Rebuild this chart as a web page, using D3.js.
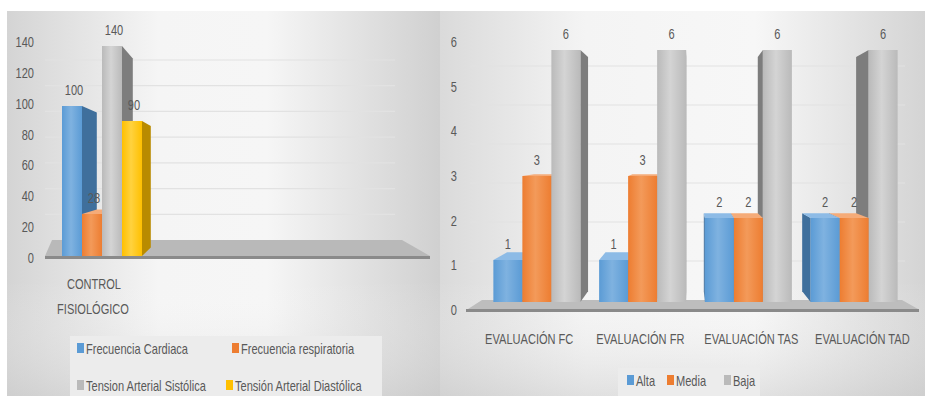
<!DOCTYPE html>
<html><head><meta charset="utf-8">
<script src="https://cdn.jsdelivr.net/npm/d3@7"></script>
<style>
html,body{margin:0;padding:0;background:#fff;}
svg{display:block;}
text{font-family:"Liberation Sans",Arial,sans-serif;fill:#595959;}
</style></head>
<body>
<svg id="c" width="925" height="396"></svg>
<script>
// ---------- DATA ----------
const leftCategories = ["CONTROL FISIOLÓGICO"];
const leftSeries = ["Frecuencia Cardiaca","Frecuencia respiratoria","Tension Arterial Sistólica","Tensión Arterial Diastólica"];
const leftValues = [100, 28, 140, 90];
const leftTicks = [0,20,40,60,80,100,120,140];

const rightCategories = ["EVALUACIÓN FC","EVALUACIÓN FR","EVALUACIÓN TAS","EVALUACIÓN TAD"];
const rightSeries = ["Alta","Media","Baja"];
const altaValues  = [1,1,2,2];
const mediaValues = [3,3,2,2];
const bajaValues  = [6,6,6,6];
const rightTicks = [0,1,2,3,4,5,6];

// ---------- STYLE ----------
const pal = {
  blue:   {front:"#5B9BD5", light:"#7fb2e0", side:"#3f6f9c", top:"#8dbbe6"},
  orange: {front:"#ED7D31", light:"#f39a5a", side:"#b25a1f", top:"#f5ab78"},
  gray:   {front:"#bababa", light:"#d4d4d4", side:"#7d7d7d", top:"#d8d8d8"},
  yellow: {front:"#FFC000", light:"#ffd23f", side:"#b98b00", top:"#ffd95a"}
};
const leftColors = [pal.blue, pal.orange, pal.gray, pal.yellow];
const rightColors = [pal.blue, pal.orange, pal.gray];
const FS = 14, CONDENSE = 0.79;

const svg = d3.select("#c");
const defs = svg.append("defs");

function linGrad(id, stops, x2="100%", y2="0%"){
  const g = defs.append("linearGradient").attr("id",id).attr("x1","0%").attr("y1","0%").attr("x2",x2).attr("y2",y2);
  stops.forEach(s=>g.append("stop").attr("offset",s[0]).attr("stop-color",s[1]));
}
linGrad("bgL", [["0%","#d4d4d4"],["35%","#f5f5f5"],["60%","#f6f6f6"],["100%","#d0d0d0"]]);
linGrad("bgR", [["0%","#dadada"],["30%","#f4f4f4"],["65%","#f7f7f7"],["100%","#d4d4d4"]]);
linGrad("vshade", [["0%","rgba(255,255,255,0)"],["70%","rgba(255,255,255,0)"],["100%","rgba(200,200,200,0.45)"]],"0%","100%");
Object.entries(pal).forEach(([k,c])=>{
  linGrad("f_"+k, [["0%",c.front],["45%",c.light],["100%",c.front]]);
});

// condensed look: squeeze each label horizontally to mimic the narrow Office font
function condense(sel){
  sel.each(function(){
    const t = d3.select(this);
    const x = +t.attr("x") || 0, y = +t.attr("y") || 0;
    const prev = t.attr("transform") || "";
    t.attr("x",0).attr("y",0)
     .attr("transform", `${prev} translate(${x},${y}) scale(${CONDENSE},1)`);
  });
}

// ---------- BACKGROUNDS ----------
svg.append("rect").attr("x",7).attr("y",11).attr("width",433).attr("height",385).attr("fill","url(#bgL)");
svg.append("rect").attr("x",7).attr("y",11).attr("width",433).attr("height",385).attr("fill","url(#vshade)");
svg.append("rect").attr("x",440).attr("y",11).attr("width",485).attr("height",385).attr("fill","url(#bgR)");
svg.append("rect").attr("x",440).attr("y",11).attr("width",485).attr("height",385).attr("fill","url(#vshade)");

// 3D bar helper
function bar3d(g, x0, x1, yTop, yBase, c, key, vp, k){
  const back = (p)=>[p[0]+(vp[0]-p[0])*k, p[1]+(vp[1]-p[1])*k];
  const cx = (x0+x1)/2;
  const sx = cx < vp[0] ? x1 : x0;
  const ptsSide = [[sx,yTop], back([sx,yTop]), back([sx,yBase]), [sx,yBase]];
  g.append("polygon").attr("points", ptsSide.map(p=>p.join(",")).join(" ")).attr("fill", c.side);
  if (yTop > vp[1]) {
    const ptsTop = [[x0,yTop],[x1,yTop],back([x1,yTop]),back([x0,yTop])];
    g.append("polygon").attr("points", ptsTop.map(p=>p.join(",")).join(" ")).attr("fill", c.top);
  }
  g.append("rect").attr("x",x0).attr("y",yTop).attr("width",x1-x0).attr("height",yBase-yTop).attr("fill","url(#f_"+key+")");
}
const keyOf = c => Object.keys(pal).find(k=>pal[k]===c);

// ---------- LEFT CHART ----------
{
  const g = svg.append("g");
  const yAxisL = d3.scaleLinear().domain([0,140]).range([258,42]);
  const yWall = d3.scaleLinear().domain([0,140]).range([240,60]);
  const yBar = d3.scaleLinear().domain([0,140]).range([256,46]);
  const xCat = d3.scaleBand().domain(leftCategories).range([55,150]);
  const xSer = d3.scaleBand().domain(leftSeries).range([7, 87]);
  const vp = [230,170], k = 0.1;

  g.selectAll(".gl").data(leftTicks.slice(1)).join("line")
    .attr("x1",45).attr("x2",395).attr("y1",d=>yWall(d)).attr("y2",d=>yWall(d))
    .attr("stroke","#e2e2e2").attr("stroke-width",1.2);

  const f0 = yAxisL(0), fb = yWall(0);
  g.append("polygon").attr("points",[[45,f0-2],[52,fb],[402,fb],[430,f0-2]].map(p=>p.join(",")).join(" ")).attr("fill","#b9b9b9");
  g.append("polygon").attr("points",[[45,f0-2],[430,f0-2],[430,f0+1],[45,f0+1]].map(p=>p.join(",")).join(" ")).attr("fill","#8a8a8a");

  const ax = d3.axisLeft(yAxisL).tickValues(leftTicks).tickFormat(d3.format("d")).tickSize(0).tickPadding(0);
  const axg = g.append("g").attr("transform","translate(34,0)").call(ax);
  axg.select(".domain").remove();
  axg.selectAll("text").attr("font-size",FS).attr("fill","#595959")
     .style("font-family",'"Liberation Sans",Arial,sans-serif').call(condense);

  const bars = leftSeries.map((s,i)=>({s, v:leftValues[i], c:leftColors[i],
     x0: xCat(leftCategories[0]) + xSer(s), x1: xCat(leftCategories[0]) + xSer(s) + xSer.bandwidth()}));
  const order = bars.slice().sort((a,b)=>Math.abs(b.x0-vp[0]) - Math.abs(a.x0-vp[0]));
  order.forEach(b=>bar3d(g, b.x0, b.x1, yBar(b.v), yBar(0), b.c, keyOf(b.c), vp, k));
  g.selectAll(".dl").data(bars).join("text")
    .attr("x",d=>(d.x0+d.x1)/2+2).attr("y",d=>yBar(d.v)-11)
    .attr("text-anchor","middle").attr("font-size",FS).text(d=>d.v).call(condense);

  const words = leftCategories[0].split(" ");
  g.selectAll(".cl").data(words).join("text")
    .attr("x",(d,i)=>xCat(leftCategories[0])+39 - i*1).attr("y",(d,i)=>289+i*25)
    .attr("text-anchor","middle").attr("font-size",FS).text(d=>d).call(condense);

  g.append("rect").attr("x",70).attr("y",336).attr("width",312).attr("height",60).attr("fill","#ececec");
  const legPos = [[77,354],[232,354],[77,391],[226,391]];
  leftSeries.forEach((s,i)=>{
    g.append("rect").attr("x",legPos[i][0]).attr("y",legPos[i][1]-11).attr("width",7).attr("height",10).attr("fill",leftColors[i].front);
    g.append("text").attr("x",legPos[i][0]+9).attr("y",legPos[i][1]).attr("font-size",FS).text(s).call(condense);
  });
}

// ---------- RIGHT CHART ----------
{
  const g = svg.append("g");
  const yAxisR = d3.scaleLinear().domain([0,6]).range([310,42]);
  const yWall = d3.scaleLinear().domain([0,6]).range([300,66]);
  const yBar = d3.scaleLinear().domain([0,6]).range([302,50]);
  const xCat = d3.scaleBand().domain(rightCategories).range([484,907]);
  const xSer = d3.scaleBand().domain(rightSeries).range([0,xCat.bandwidth()]).paddingOuter(0.323);
  const vp = [690,150], k = 0.07;

  g.selectAll(".gl").data(rightTicks.slice(1)).join("line")
    .attr("x1",470).attr("x2",905).attr("y1",d=>yWall(d)).attr("y2",d=>yWall(d))
    .attr("stroke","#e2e2e2").attr("stroke-width",1.2);

  const f0 = yAxisR(0), fb = yWall(0);
  g.append("polygon").attr("points",[[468,f0-1],[482,fb],[902,fb],[918,f0-1]].map(p=>p.join(",")).join(" ")).attr("fill","#bdbdbd");
  g.append("polygon").attr("points",[[466,f0-1],[919,f0-1],[919,f0+2],[466,f0+2]].map(p=>p.join(",")).join(" ")).attr("fill","#8a8a8a");

  const ax = d3.axisLeft(yAxisR).tickValues(rightTicks).tickFormat(d3.format("d")).tickSize(0).tickPadding(0);
  const axg = g.append("g").attr("transform","translate(457,0)").call(ax);
  axg.select(".domain").remove();
  axg.selectAll("text").attr("font-size",FS).attr("fill","#595959")
     .style("font-family",'"Liberation Sans",Arial,sans-serif').call(condense);

  const seriesVals = [altaValues, mediaValues, bajaValues];
  const bars = [];
  rightCategories.forEach((cat,ci)=>{
    rightSeries.forEach((s,si)=>{
      const x0 = xCat(cat)+xSer(s);
      bars.push({cat, s, v:seriesVals[si][ci], c:rightColors[si], x0, x1:x0+xSer.bandwidth()});
    });
  });
  const order = bars.slice().sort((a,b)=>Math.abs((b.x0+b.x1)/2-vp[0]) - Math.abs((a.x0+a.x1)/2-vp[0]));
  order.forEach(b=>bar3d(g, b.x0, b.x1, yBar(b.v), yBar(0), b.c, keyOf(b.c), vp, k));

  g.selectAll(".dl").data(bars).join("text")
    .attr("x",d=>(d.x0+d.x1)/2).attr("y",d=>yBar(d.v)-11)
    .attr("text-anchor","middle").attr("font-size",FS).text(d=>d.v).call(condense);

  g.selectAll(".cl").data(rightCategories).join("text")
    .attr("x",d=>{const c=xCat(d)+xCat.bandwidth()/2; return vp[0]+(c-vp[0])*1.05;})
    .attr("y",344).attr("text-anchor","middle").attr("font-size",FS).text(d=>d).call(condense);

  g.append("rect").attr("x",618).attr("y",368).attr("width",142).attr("height",28).attr("fill","#ececec");
  const lx = [627,667,724];
  rightSeries.forEach((s,i)=>{
    g.append("rect").attr("x",lx[i]).attr("y",375).attr("width",7).attr("height",10).attr("fill",rightColors[i].front);
    g.append("text").attr("x",lx[i]+9).attr("y",386).attr("font-size",FS).text(s).call(condense);
  });
}
</script>
</body></html>
